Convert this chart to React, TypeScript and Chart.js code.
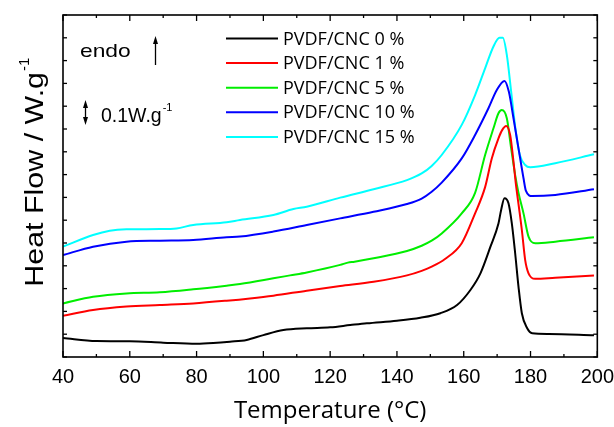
import React, { useEffect, useRef } from "react";
import { Chart, registerables } from "chart.js";

Chart.register(...registerables);

// DSC heating scans of PVDF/CNC nanocomposites (heat flow offset per trace, endo up)
const temp0 = [40, 50, 60, 70, 80, 85, 90, 95, 100, 106, 113, 120, 126, 131, 140, 147, 153, 158, 162, 165, 168, 170.4, 171.2, 172.2, 173.4, 174.4, 175.4, 176.4, 177.4, 179, 180.5, 185.5, 199];
const flow0 = [0.83, 0.7, 0.69, 0.63, 0.58, 0.61, 0.67, 0.75, 0.96, 1.18, 1.26, 1.3, 1.4, 1.48, 1.59, 1.72, 1.92, 2.28, 2.94, 3.67, 4.84, 5.86, 6.45, 6.96, 6.74, 5.86, 4.55, 3.08, 1.92, 1.26, 1.04, 1.01, 0.95];

const temp1 = [40, 49, 59, 69, 79, 89, 96, 103, 113, 123, 133, 143, 147.4, 150.4, 154.4, 159.4, 163.4, 166.4, 168.4, 170.4, 171.5, 172.7, 173.9, 174.9, 175.6, 176.5, 177.4, 178.4, 179.4, 181.4, 187.4, 199];
const flow1 = [1.81, 2.06, 2.21, 2.28, 2.35, 2.47, 2.57, 2.69, 2.91, 3.11, 3.3, 3.58, 3.78, 3.96, 4.3, 4.99, 6.3, 7.45, 8.71, 9.59, 9.95, 10.13, 9.74, 8.57, 7.6, 6.6, 5.57, 4.25, 3.67, 3.43, 3.48, 3.57];

const temp5 = [40, 49, 59, 69, 79, 89, 93, 103, 108, 113, 123, 125.3, 127.3, 133, 143, 147.4, 150.4, 153.4, 159.4, 163.4, 166.4, 168.9, 170.4, 171.4, 172.9, 174.2, 175.4, 176.4, 177.9, 179.4, 181.4, 187.4, 199];
const flow5 = [2.35, 2.64, 2.79, 2.84, 2.97, 3.13, 3.2, 3.45, 3.58, 3.71, 4.04, 4.14, 4.18, 4.33, 4.65, 4.88, 5.1, 5.42, 6.3, 7.2, 8.86, 10.03, 10.69, 10.83, 10.47, 9.15, 7.98, 7.2, 6.3, 5.28, 4.99, 5.06, 5.25];

const temp10 = [40, 49, 59, 69, 79, 89, 93, 103, 113, 123, 133, 143, 147.4, 150.4, 153.4, 159.4, 163.4, 167.4, 169.9, 172.2, 173.5, 174.9, 176.4, 177.9, 178.6, 180.5, 187.4, 199];
const flow10 = [4.47, 4.84, 5.06, 5.1, 5.13, 5.25, 5.28, 5.5, 5.79, 6.08, 6.37, 6.71, 6.95, 7.25, 7.65, 8.71, 9.74, 10.91, 11.71, 12.11, 11.64, 10.47, 9.15, 7.84, 7.3, 7.06, 7.11, 7.36];

const temp15 = [40, 49, 54, 59, 69, 74, 79, 89, 93, 103, 109, 113, 123, 133, 143, 147.4, 150.4, 153.4, 159.4, 163.4, 166.4, 168.9, 170.7, 171.7, 172.9, 174.2, 175.6, 176.8, 178.4, 179.9, 187.4, 199];
const flow15 = [4.84, 5.35, 5.54, 5.6, 5.61, 5.64, 5.79, 5.91, 6.01, 6.23, 6.49, 6.59, 6.99, 7.36, 7.76, 8.05, 8.38, 8.86, 10.18, 11.49, 12.66, 13.62, 14.0, 14.0, 13.25, 11.64, 9.88, 8.86, 8.42, 8.32, 8.5, 8.89];

const seriesLabels = ["PVDF/CNC 0 %", "PVDF/CNC 1 %", "PVDF/CNC 5 %", "PVDF/CNC 10 %", "PVDF/CNC 15 %"];
const seriesColors = ["#000000", "#ff0000", "#00ee00", "#0000ff", "#00ffff"];
const seriesTemps = [temp0, temp1, temp5, temp10, temp15];
const seriesFlows = [flow0, flow1, flow5, flow10, flow15];

const tempMin = 40;
const tempMax = 200;
const tempMajorStep = 20;
const tempMinorStep = 10;
const flowMin = 0;
const flowMax = 15;
const flowTickStep = 1;

const xTitle = "Temperature (°C)";
const yTitle = "Heat Flow / W.g";
const unitSup = "-1";

const SANS = "'Liberation Sans', Arial, sans-serif";
const OPEN = "'Open Sans', sans-serif";

function line(ctx: CanvasRenderingContext2D, x1: number, y1: number, x2: number, y2: number) {
  ctx.beginPath();
  ctx.moveTo(x1, y1);
  ctx.lineTo(x2, y2);
  ctx.stroke();
}

function arrowHead(ctx: CanvasRenderingContext2D, x: number, tipY: number, dir: number) {
  ctx.beginPath();
  ctx.moveTo(x, tipY);
  ctx.lineTo(x - 2.5, tipY + dir * 8);
  ctx.lineTo(x + 2.5, tipY + dir * 8);
  ctx.closePath();
  ctx.fill();
}

// Text drawn with a slight horizontal widening of the glyphs
function wideText(ctx: CanvasRenderingContext2D, text: string, x: number, y: number, sx: number) {
  ctx.save();
  ctx.translate(x, y);
  ctx.scale(sx, 1);
  ctx.fillText(text, 0, 0);
  const w = ctx.measureText(text).width * sx;
  ctx.restore();
  return w;
}

// Closed frame with inward tick marks on all four sides
const framePlugin = {
  id: "frameTicks",
  afterDraw(chart: any) {
    const { ctx, chartArea: a, scales } = chart;
    const x = scales.x;
    const y = scales.y;
    ctx.save();
    ctx.strokeStyle = "#000";
    ctx.lineWidth = 1.6;
    ctx.strokeRect(a.left, a.top, a.right - a.left, a.bottom - a.top);
    ctx.lineWidth = 1.3;
    for (let t = tempMin; t <= tempMax; t += tempMinorStep) {
      const px = x.getPixelForValue(t);
      const len = (t - tempMin) % tempMajorStep === 0 ? 6 : 3;
      line(ctx, px, a.bottom, px, a.bottom - len);
      line(ctx, px, a.top, px, a.top + len);
    }
    for (let v = flowMin; v <= flowMax; v += flowTickStep) {
      const py = y.getPixelForValue(v);
      line(ctx, a.left, py, a.left + 4, py);
      line(ctx, a.right, py, a.right - 4, py);
    }
    ctx.restore();
  },
};

// Legend, annotations and y-axis title with superscript
const notesPlugin = {
  id: "notes",
  afterDraw(chart: any) {
    const { ctx } = chart;
    ctx.save();
    ctx.fillStyle = "#000";
    ctx.strokeStyle = "#000";

    // legend
    chart.data.datasets.forEach((ds: any, i: number) => {
      const ry = 38.5 + i * 24.6;
      ctx.strokeStyle = ds.borderColor;
      ctx.lineWidth = 2;
      line(ctx, 226, ry, 278, ry);
      ctx.fillStyle = "#000";
      ctx.font = `18px ${OPEN}`;
      ctx.textAlign = "left";
      ctx.textBaseline = "middle";
      ctx.fillText(ds.label, 283, ry + 1);
    });

    // endo arrow
    ctx.fillStyle = "#000";
    ctx.strokeStyle = "#000";
    ctx.textBaseline = "alphabetic";
    ctx.textAlign = "left";
    ctx.font = `19px ${SANS}`;
    wideText(ctx, "endo", 80, 56.5, 1.2);
    ctx.lineWidth = 1.3;
    line(ctx, 155.5, 65, 155.5, 42);
    arrowHead(ctx, 155.5, 36, 1);

    // scale bar
    line(ctx, 85.5, 105, 85.5, 120);
    arrowHead(ctx, 85.5, 100, 1);
    arrowHead(ctx, 85.5, 125, -1);
    ctx.font = `19.5px ${SANS}`;
    ctx.fillText("0.1W.g", 101, 121.5);
    const w1 = ctx.measureText("0.1W.g").width;
    ctx.font = `11px ${SANS}`;
    ctx.fillText(unitSup, 101 + w1 + 1, 111);

    // y title
    ctx.translate(43, 72);
    ctx.rotate(-Math.PI / 2);
    ctx.font = `26px ${SANS}`;
    ctx.textAlign = "right";
    wideText(ctx, yTitle, 0, 0, 1.17);
    ctx.textAlign = "left";
    ctx.font = `15px ${SANS}`;
    ctx.fillText(unitSup, 1, -14);
    ctx.restore();
  },
};

export default function App() {
  const canvasRef = useRef<HTMLCanvasElement | null>(null);

  useEffect(() => {
    if (!canvasRef.current) return;
    const datasets = seriesLabels.map((label, i) => ({
      label,
      data: seriesTemps[i].map((t, k) => ({ x: t, y: seriesFlows[i][k] })),
      borderColor: seriesColors[i],
      backgroundColor: seriesColors[i],
      borderWidth: 2,
      pointRadius: 0,
      fill: false,
      cubicInterpolationMode: "monotone" as const,
    }));
    const chart = new Chart(canvasRef.current, {
      type: "line",
      data: { datasets },
      options: {
        animation: false,
        responsive: false,
        maintainAspectRatio: false,
        events: [],
        layout: { padding: { top: 15, right: 16, left: 0, bottom: 0 } },
        plugins: { legend: { display: false }, tooltip: { enabled: false } },
        scales: {
          x: {
            type: "linear",
            min: tempMin,
            max: tempMax,
            grid: { display: false },
            border: { display: false },
            ticks: {
              stepSize: tempMajorStep,
              color: "#000",
              padding: 0,
              maxRotation: 0,
              font: { family: "Arial, 'Liberation Sans', sans-serif", size: 20 },
            },
            title: {
              display: true,
              text: xTitle,
              color: "#000",
              font: { family: OPEN, size: 24 },
              padding: { top: 0, bottom: 1 },
            },
            afterFit: (s: any) => {
              s.height = 70;
            },
          },
          y: {
            type: "linear",
            min: flowMin,
            max: flowMax,
            grid: { display: false },
            border: { display: false },
            ticks: { display: false, stepSize: flowTickStep },
            afterFit: (s: any) => {
              s.width = 63;
            },
          },
        },
      },
      plugins: [framePlugin, notesPlugin],
    });
    return () => chart.destroy();
  }, []);

  return (
    <div style={{ position: "absolute", left: 0, top: 0, width: 614, height: 427, background: "#fff" }}>
      <canvas ref={canvasRef} width={614} height={427} style={{ width: 614, height: 427 }} />
    </div>
  );
}
